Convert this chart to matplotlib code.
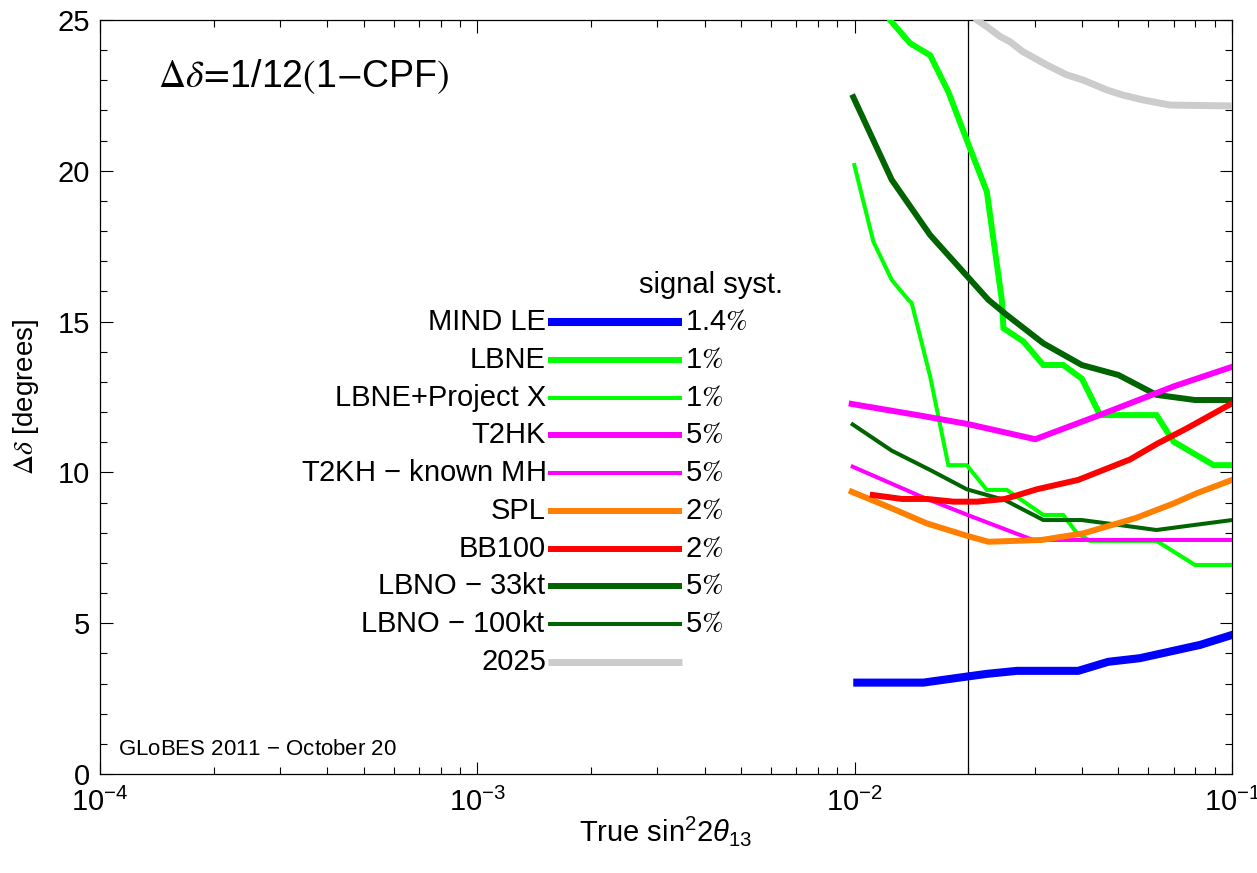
import matplotlib
matplotlib.use("Agg")
from matplotlib import pyplot as plt
from matplotlib.ticker import MultipleLocator, LogLocator, NullFormatter

plt.rcParams.update({
    'font.family': ['Liberation Sans', 'DejaVu Sans'],
    'font.size': 21,
    'mathtext.fontset': 'custom',
    'mathtext.rm': 'Liberation Sans',
    'mathtext.it': 'Liberation Sans:italic',
    'mathtext.bf': 'Liberation Sans:bold',
})

# delta-CP resolution curves, x = true sin^2 2theta13, y = degrees
mind_x = [0.01016, 0.01521, 0.01982, 0.0224, 0.0269, 0.0391, 0.0470, 0.0570, 0.0685, 0.0823, 0.1]
mind_y = [3.03, 3.03, 3.23, 3.32, 3.42, 3.42, 3.72, 3.84, 4.06, 4.28, 4.61]

lbne_x = [0.0116, 0.01241, 0.01402, 0.01585, 0.01771, 0.01982, 0.0224, 0.02455, 0.02479, 0.0280,
          0.03162, 0.0357, 0.0400, 0.0447, 0.0631, 0.0700, 0.0894, 0.1]
lbne_y = [26.0, 25.0, 24.23, 23.83, 22.62, 21.02, 19.31, 15.71, 14.78, 14.34,
          13.56, 13.56, 13.11, 11.90, 11.90, 11.02, 10.24, 10.24]

lbnepx_x = [0.00998, 0.01121, 0.01254, 0.01388, 0.01416, 0.01585, 0.01771, 0.01982, 0.0224, 0.0253,
            0.03162, 0.0357, 0.0388, 0.0420, 0.0631, 0.0798, 0.1]
lbnepx_y = [20.19, 17.65, 16.38, 15.72, 15.62, 13.18, 10.24, 10.24, 9.42, 9.42,
            8.59, 8.59, 7.99, 7.73, 7.73, 6.93, 6.93]

t2hk_x = [0.00982, 0.0150, 0.0200, 0.0301, 0.0450, 0.0700, 0.1]
t2hk_y = [12.27, 11.88, 11.60, 11.10, 11.92, 12.85, 13.50]

t2hk_mh_x = [0.00988, 0.0150, 0.0200, 0.0297, 0.0450, 0.0700, 0.1]
t2hk_mh_y = [10.19, 9.20, 8.58, 7.76, 7.76, 7.76, 7.76]

spl_x = [0.00982, 0.01254, 0.01552, 0.01982, 0.02262, 0.0313, 0.0404, 0.0554, 0.0700, 0.0807, 0.1]
spl_y = [9.36, 8.81, 8.31, 7.90, 7.70, 7.76, 7.98, 8.48, 8.97, 9.31, 9.75]

bb100_x = [0.01117, 0.01334, 0.01552, 0.01827, 0.0211, 0.02504, 0.0304, 0.0391, 0.0456, 0.0537,
           0.0631, 0.0759, 0.1]
bb100_y = [9.25, 9.12, 9.12, 9.03, 9.03, 9.12, 9.44, 9.75, 10.08, 10.43,
           10.94, 11.46, 12.29]

lbno33_x = [0.00992, 0.01254, 0.01585, 0.02262, 0.0253, 0.03162, 0.0400, 0.0500, 0.0631, 0.0798, 0.1]
lbno33_y = [22.44, 19.70, 17.87, 15.72, 15.22, 14.28, 13.56, 13.23, 12.57, 12.40, 12.40]

lbno100_x = [0.00988, 0.01254, 0.01585, 0.01982, 0.02504, 0.03162, 0.0400, 0.0500, 0.0631, 0.0798, 0.1]
lbno100_y = [11.59, 10.72, 10.08, 9.44, 9.08, 8.42, 8.42, 8.26, 8.09, 8.26, 8.42]

y2025_x = [0.0200, 0.0211, 0.0224, 0.0243, 0.0258, 0.0279, 0.0323, 0.0365, 0.0403, 0.0466,
           0.0514, 0.0581, 0.0685, 0.1]
y2025_y = [25.5, 25.0, 24.78, 24.45, 24.28, 23.95, 23.51, 23.18, 23.01, 22.68,
           22.51, 22.35, 22.18, 22.15]

names = ['MIND LE', 'LBNE', 'LBNE+Project X', 'T2HK', 'T2KH $-$ known MH', 'SPL', 'BB100',
         'LBNO $-$ 33kt', 'LBNO $-$ 100kt', '2025']
syst = ['1.4', '1', '1', '5', '5', '2', '2', '5', '5', None]
series = [(mind_x, mind_y), (lbne_x, lbne_y), (lbnepx_x, lbnepx_y), (t2hk_x, t2hk_y),
          (t2hk_mh_x, t2hk_mh_y), (spl_x, spl_y), (bb100_x, bb100_y),
          (lbno33_x, lbno33_y), (lbno100_x, lbno100_y), (y2025_x, y2025_y)]
colors = ['#0000ff', '#00ff00', '#00ff00', '#ff00ff', '#ff00ff', '#ff8000', '#ff0000',
          '#006400', '#006400', '#cccccc']
widths = [5.8, 4.3, 2.9, 4.3, 2.9, 4.3, 4.3, 4.3, 2.9, 5.0]

fig = plt.figure(figsize=(12.57, 8.73), dpi=100)
ax = fig.add_axes([100 / 1257, 1 - 774 / 873, 1132 / 1257, 754 / 873])

order = [9, 1, 2, 7, 8, 3, 4, 5, 6, 0]
for i in order:
    x, y = series[i]
    ax.plot(x, y, color=colors[i], lw=widths[i], solid_joinstyle='miter', zorder=3)

ax.axvline(0.02, color='black', lw=0.9, zorder=2)

ax.set_xscale('log')
ax.set_xlim(1e-4, 1e-1)
ax.set_ylim(0, 25)
ax.yaxis.set_major_locator(MultipleLocator(5))
ax.yaxis.set_minor_locator(MultipleLocator(1))
ax.xaxis.set_minor_locator(LogLocator(base=10, subs=range(2, 10)))
ax.xaxis.set_minor_formatter(NullFormatter())
ax.tick_params(which='both', direction='in', top=True, right=True, width=0.8)
ax.tick_params(which='major', length=9, labelsize=21)
ax.tick_params(axis='x', which='major', pad=10)
ax.tick_params(axis='y', which='major', pad=7)
ax.tick_params(which='minor', length=5)
for s in ax.spines.values():
    s.set_linewidth(0.9)

ax.set_xlabel(r'True sin$^2$2$\theta_{13}$', fontsize=21, labelpad=-2)
ax.set_ylabel(r'$\Delta\delta$ [degrees]', fontsize=20, labelpad=12,
              math_fontfamily='stix')

ax.text(0.051, 0.925, r'$\Delta\delta\!=\!$1/12$($1$-$CPF$)$', transform=ax.transAxes,
        fontsize=27, va='center', ha='left', math_fontfamily='stix')
ax.text(0.016, 0.032, 'GLoBES 2011 $-$ October 20', transform=ax.transAxes,
        fontsize=16, va='center', ha='left')

# hand-placed key with systematics column
x0, x1 = 0.396, 0.514
row0, dy = 0.5995, 0.0501
ax.text(0.54, row0 + 0.049, 'signal syst.', transform=ax.transAxes,
        fontsize=21, ha='center', va='center')
for k in range(len(names)):
    yy = row0 - k * dy
    ax.plot([x0, x1], [yy, yy], color=colors[k], lw=widths[k],
            transform=ax.transAxes, solid_capstyle='butt')
    ax.text(x0 - 0.002, yy, names[k], transform=ax.transAxes,
            fontsize=21, ha='right', va='center')
    if syst[k] is not None:
        ax.text(x1 + 0.003, yy, syst[k] + r'$\mathit{\%}$', transform=ax.transAxes,
                fontsize=21, ha='left', va='center', math_fontfamily='stix')

fig.savefig('out.png', dpi=100)
